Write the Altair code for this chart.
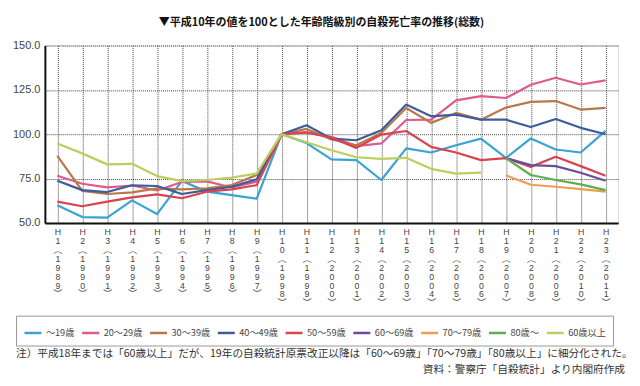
import altair as alt
import pandas as pd

title_text = "▼平成10年の値を100とした年齢階級別の自殺死亡率の推移(総数)"
note_text = "注）平成18年までは「60歳以上」だが、19年の自殺統計原票改正以降は「60～69歳」「70～79歳」「80歳以上」に細分化された。"
source_text = "資料：警察庁「自殺統計」より内閣府作成"

periods = ["H1(1989)", "H2(1990)", "H3(1991)", "H4(1992)", "H5(1993)", "H6(1994)",
           "H7(1995)", "H8(1996)", "H9(1997)", "H10(1998)", "H11(1999)", "H12(2000)",
           "H13(2001)", "H14(2002)", "H15(2003)", "H16(2004)", "H17(2005)", "H18(2006)",
           "H19(2007)", "H20(2008)", "H21(2009)", "H22(2010)", "H23(2011)"]

series_names = ["～19歳", "20～29歳", "30～39歳", "40～49歳", "50～59歳",
                "60～69歳", "70～79歳", "80歳～", "60歳以上"]
series_colors = ["#38a3d4", "#df5a8e", "#b8784b", "#3e5b9a", "#d9434f",
                 "#6b4b9a", "#ef9d4f", "#5dae4e", "#bccf5c"]

N = None
u19 = [60, 53.3, 53, 62.7, 55, 73.7, 67.6, 65.7, 63.7, 100, 95, 85.8, 85.4, 74.2,
       92, 89.7, 93.8, 97.5, 86.6, 97.6, 91.4, 89.7, 101.9]
a20 = [76.6, 72.1, 70, 71.1, 68.3, 73.1, 73.4, 70, 73.2, 100, 101, 98.5, 93.3, 94.8,
       108, 108.2, 119.1, 121.5, 120.4, 127.9, 131.8, 128, 130.3]
a30 = [87.8, 68.1, 66.3, 67.2, 69.5, 68.9, 69.5, 71.3, 77, 100, 103, 97, 93.8, 100.7,
       114.8, 106.4, 112, 108.2, 115, 118.2, 118.7, 113.9, 114.8]
a40 = [73.8, 68.5, 67.4, 71.2, 70.8, 66.3, 68.5, 70.4, 74.6, 100, 105, 97.5, 96.6, 102.2,
       116.7, 110.1, 111, 108.2, 108.2, 104.1, 108.6, 103.6, 100]
a50 = [62, 59.4, 62, 64.4, 66.1, 63.9, 67.6, 68.9, 71.3, 100, 101, 98, 92.3, 99.8,
       101.8, 92.9, 89.7, 85.4, 86.5, 81.6, 87.3, 82, 76.6]
a60s = [N] * 18 + [86.5, 82.6, 82, 78.3, 73.8]
a70s = [N] * 18 + [76.8, 71.5, 70.4, 69.1, 67.6]
a80 = [N] * 18 + [86.5, 77, 74.2, 71.7, 68.5]
o60 = [94.8, 89.2, 83, 83.3, 76.4, 73.6, 74.2, 75.5, 77.9, 100, 95.5, 91, 87, 86.1,
       86.7, 80.5, 77.8, 78.3] + [N] * 5

all_series = [u19, a20, a30, a40, a50, a60s, a70s, a80, o60]

rows = []
for name, vals in zip(series_names, all_series):
    for p, v in zip(periods, vals):
        if v is not None:
            rows.append({"period": p, "group": name, "value": v})
df = pd.DataFrame(rows)

FONT = "Liberation Sans, Noto Sans CJK JP"
CJK = "Noto Sans CJK JP"

label_expr = ("split(replace(replace(length(datum.value) < 9 ? replace(datum.value, '(', ' (') "
              ": datum.value, '(', '︵'), ')', '︶'), '')")

lines = alt.Chart(df).mark_line(strokeWidth=2.2, strokeJoin="round").encode(
    x=alt.X("period:N", sort=periods, title=None,
            scale=alt.Scale(type="point", padding=0.5),
            axis=alt.Axis(labelExpr=label_expr, labelAngle=0, labelFontSize=8.8,
                          labelLineHeight=8.9, labelBaseline="top", labelPadding=5,
                          labelColor="#444", labelFont=FONT, ticks=False,
                          labelOverlap=False,
                          domainColor="#111", domainWidth=2,
                          grid=True, gridDash=[1, 1], gridColor="#444", gridWidth=1)),
    y=alt.Y("value:Q", title=None,
            scale=alt.Scale(domain=[50, 150], nice=False, zero=False),
            axis=alt.Axis(values=[50, 75, 100, 125, 150], format=".1f", labelFontSize=11,
                          labelColor="#444", labelFont=FONT, labelPadding=5, ticks=False,
                          domainColor="#111", domainWidth=2,
                          grid=True, gridDash=[1, 1], gridColor="#444", gridWidth=1)),
    color=alt.Color("group:N", sort=series_names,
                    scale=alt.Scale(domain=series_names, range=series_colors),
                    legend=alt.Legend(title=None, orient="none", legendX=-29, legendY=271,
                                      direction="horizontal", columns=9,
                                      symbolType="stroke", symbolSize=290,
                                      symbolStrokeWidth=2.5, labelFontSize=9.2,
                                      labelFont=CJK, labelColor="#444",
                                      columnPadding=2, labelOffset=3,
                                      strokeColor="#999", padding=7)),
)

note = alt.Chart(pd.DataFrame({"t": [note_text]})).mark_text(
    align="left", baseline="middle", fontSize=10.7, font=CJK, color="#333"
).encode(text="t:N", x=alt.value(-29), y=alt.value(309))

source = alt.Chart(pd.DataFrame({"t": [source_text]})).mark_text(
    align="right", baseline="middle", fontSize=10.7, font=CJK, color="#333"
).encode(text="t:N", x=alt.value(582), y=alt.value(326))

chart = alt.layer(lines, note, source).properties(
    width=575, height=178,
    autosize=alt.AutoSizeParams(type="none"),
    padding={"left": 37, "top": 37, "right": 14, "bottom": 170},
    title=alt.TitleParams(title_text, anchor="middle", fontSize=11, font=CJK,
                          fontWeight="bold", color="#111", offset=12, dx=-10),
).configure_view(stroke=None).configure(background="white")

chart.save("out.html", embed_options={"renderer": "svg", "actions": False})
